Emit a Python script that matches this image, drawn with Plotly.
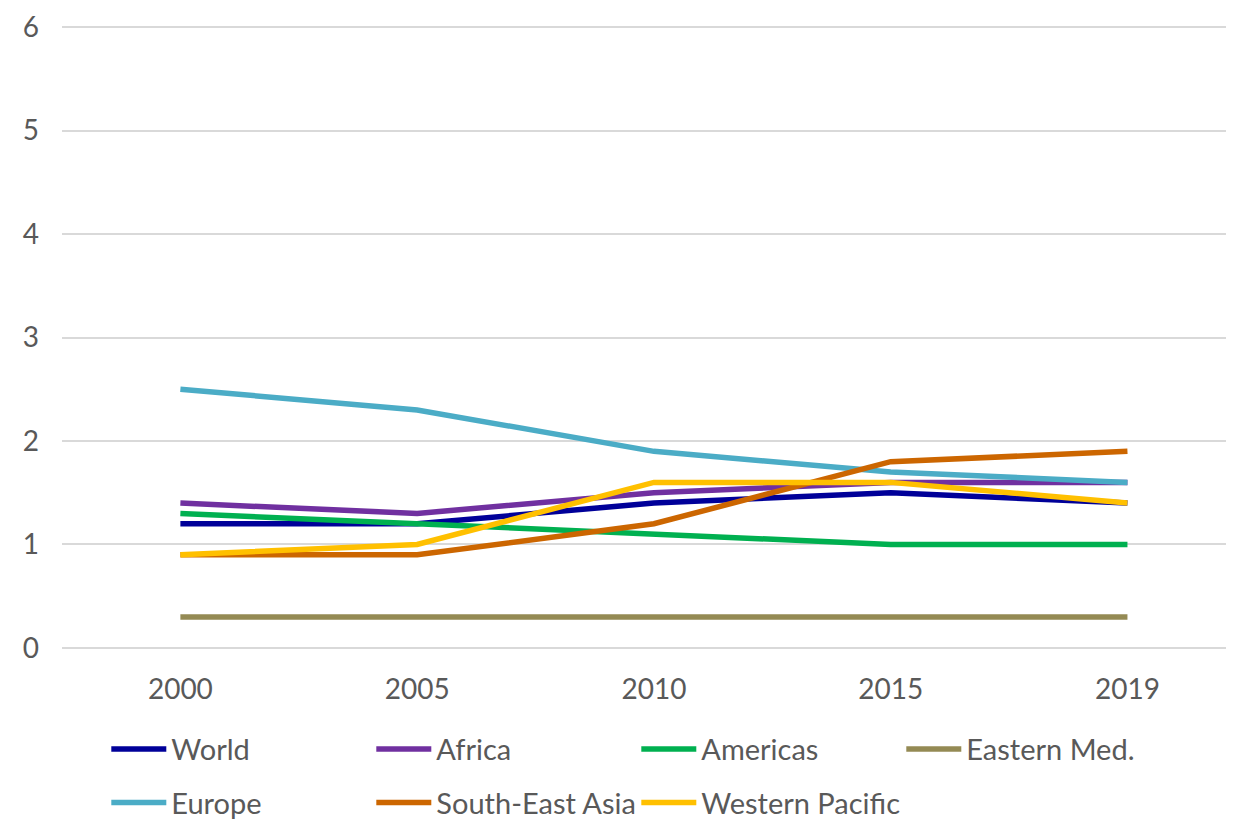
import plotly.graph_objects as go

years = ["2000", "2005", "2010", "2015", "2019"]
series_names = ["World", "Africa", "Americas", "Eastern Med.", "Europe", "South-East Asia", "Western Pacific"]
world = [1.2, 1.2, 1.4, 1.5, 1.4]
africa = [1.4, 1.3, 1.5, 1.6, 1.6]
americas = [1.3, 1.2, 1.1, 1.0, 1.0]
eastern_med = [0.3, 0.3, 0.3, 0.3, 0.3]
europe = [2.5, 2.3, 1.9, 1.7, 1.6]
south_east_asia = [0.9, 0.9, 1.2, 1.8, 1.9]
western_pacific = [0.9, 1.0, 1.6, 1.6, 1.4]

values = [world, africa, americas, eastern_med, europe, south_east_asia, western_pacific]
colors = ["#000099", "#7030A0", "#00B050", "#948A54", "#4BACC6", "#CC6600", "#FFC000"]

fig = go.Figure()
for i, (name, vals, col) in enumerate(zip(series_names, values, colors)):
    fig.add_trace(go.Scatter(x=years, y=vals, name=name, mode="lines",
                             line=dict(color=col, width=5.5),
                             legend="legend" if i < 4 else "legend2"))

leg_common = dict(orientation="h", x=0.0378, xanchor="left", yanchor="top",
                  entrywidth=195, entrywidthmode="pixels", itemwidth=55,
                  font=dict(size=29, color="#595959", family="Lato, sans-serif"),
                  bgcolor="rgba(0,0,0,0)")

fig.update_layout(
    width=1234, height=821,
    margin=dict(l=54, r=8, t=18, b=180, autoexpand=False),
    paper_bgcolor="white", plot_bgcolor="white",
    font=dict(family="Lato, sans-serif", color="#595959", size=28),
    xaxis=dict(type="category", range=[-0.5, 4.45], showgrid=False, zeroline=False,
               showline=False, ticks="", tickfont=dict(size=28), ticklabelstandoff=21),
    yaxis=dict(range=[-0.01, 6.01], tickvals=[0, 1, 2, 3, 4, 5, 6], showgrid=True,
               gridcolor="#D9D9D9", gridwidth=1.5,
               zeroline=False, showline=False, tickfont=dict(size=28), ticklabelstandoff=22),
    legend=dict(y=-0.120, **leg_common),
    legend2=dict(y=-0.2055, **leg_common),
    showlegend=True,
)

fig.write_html("out.html")
